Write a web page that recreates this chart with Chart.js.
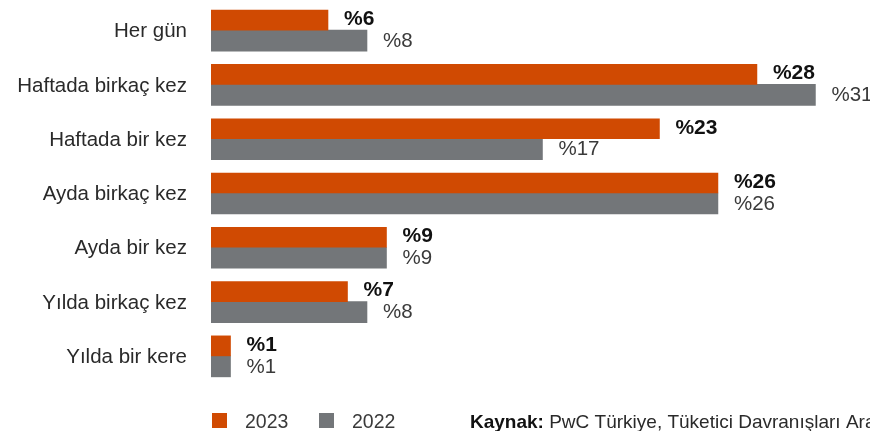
<!DOCTYPE html>
<html>
<head>
<meta charset="utf-8">
<script src="https://cdn.jsdelivr.net/npm/chart.js@4/dist/chart.umd.min.js"></script>
<style>
  html, body { margin: 0; padding: 0; background: #ffffff; }
  #wrap { width: 870px; height: 431px; position: relative; }
</style>
</head>
<body>
<div id="wrap"><canvas id="c" width="870" height="431"></canvas></div>
<script>
// Purchase frequency categories
const categories = [
  'Her gün',
  'Haftada birkaç kez',
  'Haftada bir kez',
  'Ayda birkaç kez',
  'Ayda bir kez',
  'Yılda birkaç kez',
  'Yılda bir kere'
];
// Share of respondents (%)
const values2023 = [6, 28, 23, 26, 9, 7, 1];
const values2022 = [8, 31, 17, 26, 9, 8, 1];
const seriesNames = ['2023', '2022'];
const sourceLabel = 'Kaynak:';
const sourceText = 'PwC Türkiye, Tüketici Davranışları Araştırması';

const ORANGE = '#d04a02';
const GREY = '#737679';
const FONT = '"Liberation Sans", Arial, Helvetica, sans-serif';

// Value labels to the right of each bar, "%n"
const valueLabels = {
  id: 'valueLabels',
  afterDatasetsDraw(chart) {
    const ctx = chart.ctx;
    ctx.save();
    ctx.textAlign = 'left';
    ctx.textBaseline = 'middle';
    chart.data.datasets.forEach((ds, di) => {
      const meta = chart.getDatasetMeta(di);
      meta.data.forEach((bar, i) => {
        const v = ds.data[i];
        if (di === 0) {
          ctx.font = 'bold 21px ' + FONT;
          ctx.fillStyle = '#111111';
          ctx.fillText('%' + v, bar.x + 16, bar.y - 1);
        } else {
          ctx.font = '20.5px ' + FONT;
          ctx.fillStyle = '#3a3a3a';
          ctx.fillText('%' + v, bar.x + 16, bar.y + 0.5);
        }
      });
    });
    ctx.restore();
  }
};

// Legend squares and source line along the bottom
const footer = {
  id: 'footer',
  afterDraw(chart) {
    const ctx = chart.ctx;
    ctx.save();
    const legendX = [212, 319];
    chart.data.datasets.forEach((ds, di) => {
      const x = legendX[di];
      ctx.fillStyle = ds.backgroundColor;
      ctx.fillRect(x, 413, 15, 15);
      ctx.font = '19.5px ' + FONT;
      ctx.fillStyle = '#3a3a3a';
      ctx.textAlign = 'left';
      ctx.textBaseline = 'alphabetic';
      ctx.fillText(ds.label, x + 33, 428);
    });
    ctx.font = 'bold 19px ' + FONT;
    ctx.fillStyle = '#111111';
    ctx.fillText(sourceLabel, 470, 428);
    const w = ctx.measureText(sourceLabel + ' ').width;
    ctx.font = '19px ' + FONT;
    ctx.fillStyle = '#2a2a2a';
    ctx.fillText(sourceText, 470 + w, 428);
    ctx.restore();
  }
};

new Chart(document.getElementById('c'), {
  type: 'bar',
  data: {
    labels: categories,
    datasets: [
      { label: seriesNames[0], data: values2023, backgroundColor: ORANGE, barThickness: 20 },
      { label: seriesNames[1], data: values2022, backgroundColor: GREY, barThickness: 21 }
    ]
  },
  options: {
    indexAxis: 'y',
    responsive: false,
    animation: false,
    layout: { padding: { top: 3, bottom: 48, left: 0, right: 0 } },
    plugins: {
      legend: { display: false },
      tooltip: { enabled: false }
    },
    scales: {
      x: {
        display: false,
        min: 0,
        max: 33.8
      },
      y: {
        afterFit(scale) {
          scale.width = 211;
          scale.paddingTop = 0;
          scale.paddingBottom = 0;
        },
        grid: { display: false, drawTicks: false },
        border: { display: false },
        ticks: {
          padding: 24,
          labelOffset: 1.5,
          color: '#2a2a2a',
          font: { family: FONT, size: 20.5 }
        }
      }
    }
  },
  plugins: [valueLabels, footer]
});
</script>
</body>
</html>
